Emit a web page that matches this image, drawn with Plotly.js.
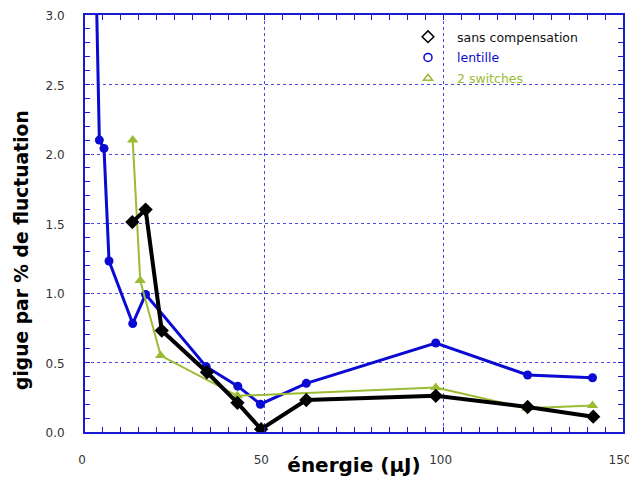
<!DOCTYPE html>
<html><head><meta charset="utf-8">
<script src="https://cdn.plot.ly/plotly-3.0.1.min.js"></script>
<style>body{margin:0;background:#fff}#chart{width:629px;height:477px}</style>
</head><body><div id="chart"></div>
<script>
// sans compensation
const xNoComp = [13.2, 16.9, 21.4, 34.0, 42.5, 49.1, 61.7, 97.8, 123.4, 141.7];
const yNoComp = [1.51, 1.60, 0.73, 0.43, 0.21, 0.02, 0.23, 0.26, 0.18, 0.11];
// lentille
const xLens = [2.5, 4.0, 5.3, 6.7, 13.3, 16.9, 33.8, 42.6, 48.9, 61.7, 97.8, 123.4, 141.5];
const yLens = [4.0, 2.10, 2.04, 1.23, 0.78, 0.99, 0.47, 0.33, 0.20, 0.35, 0.64, 0.41, 0.39];
// 2 switches
const xSw = [13.3, 15.4, 21.1, 42.5, 97.8, 123.2, 141.5];
const ySw = [2.10, 1.09, 0.55, 0.26, 0.32, 0.17, 0.19];

const seriesNames = ['sans compensation', 'lentille', '2 switches'];
const xTickVals = [0, 50, 100, 150];
const yTickVals = [0, 0.5, 1, 1.5, 2, 2.5, 3];
const xTitle = 'énergie (µJ)';
const yTitle = 'gigue par % de fluctuation';

const BLUE = '#0a0ad2', GREEN = '#9bbb33', AXIS = '#1a1ad0', GRID = '#4a4ae6';
const FONT = 'DejaVu Sans, Verdana, sans-serif';

const traces = [
  {x: xLens, y: yLens, mode: 'lines+markers', showlegend: false,
   line: {color: BLUE, width: 3}, marker: {symbol: 'circle', size: 9, color: BLUE}},
  {x: xSw, y: ySw, mode: 'lines+markers', showlegend: false,
   line: {color: GREEN, width: 2}, marker: {symbol: 'triangle-up', size: 10, color: GREEN}},
  {x: xNoComp, y: yNoComp, mode: 'lines+markers', showlegend: false,
   line: {color: '#000', width: 4}, marker: {symbol: 'diamond', size: 11, color: '#000'}},
  // legend entries
  {x: [null], y: [null], mode: 'markers', legendgroup: 'a',
   name: '<span style="color:#111">' + seriesNames[0] + '</span>',
   marker: {symbol: 'diamond-open', size: 9, color: '#000', line: {width: 1.5}}},
  {x: [null], y: [null], mode: 'markers', legendgroup: 'b',
   name: '<span style="color:' + BLUE + '">' + seriesNames[1] + '</span>',
   marker: {symbol: 'circle-open', size: 8, color: BLUE, line: {width: 1.5}}},
  {x: [null], y: [null], mode: 'markers', legendgroup: 'c',
   name: '<span style="color:' + GREEN + '">' + seriesNames[2] + '</span>',
   marker: {symbol: 'triangle-up-open', size: 8, color: GREEN, line: {width: 1.5}}}
];

const axisCommon = {
  showline: true, linecolor: AXIS, linewidth: 2, mirror: 'ticks',
  ticks: 'inside', ticklen: 5, tickcolor: AXIS, tickwidth: 1,
  showgrid: true, gridcolor: GRID, griddash: 'dot', gridwidth: 1,
  zeroline: false, ticklabeloverflow: 'allow',
  tickfont: {family: FONT, size: 12, color: '#333'}
};

const layout = {
  width: 629, height: 477,
  margin: {l: 85, r: 6, t: 15, b: 45},
  paper_bgcolor: '#fff', plot_bgcolor: '#fff',
  font: {family: FONT},
  xaxis: Object.assign({}, axisCommon, {
    range: [0, 150], tickvals: xTickVals, ticktext: xTickVals.map(String),
    ticklabelstandoff: 16, ticklabelshift: -3,
    minor: {dtick: 5, ticks: 'inside', ticklen: 5, tickcolor: AXIS, showgrid: false},
    title: {text: xTitle, standoff: 0,
            font: {family: FONT, size: 20, color: '#000', weight: 'bold'}}
  }),
  yaxis: Object.assign({}, axisCommon, {
    range: [0, 3], tickvals: yTickVals, ticktext: yTickVals.map(v => v.toFixed(1)),
    ticklabelstandoff: 16, ticklabelshift: 1,
    minor: {dtick: 0.1, ticks: 'inside', ticklen: 5, tickcolor: AXIS, showgrid: false}
  }),
  annotations: [{text: yTitle, textangle: -90, xref: 'paper', yref: 'paper',
                 x: (21 - 85) / 538, y: (432 - 250) / 417, xanchor: 'center', yanchor: 'middle',
                 showarrow: false, font: {family: FONT, size: 18.7, color: '#000', weight: 'bold'}}],
  shapes: [{type: 'rect', xref: 'paper', yref: 'paper', x0: 0.5725, x1: 0.998, y0: 0.808, y1: 0.997,
            fillcolor: '#fff', line: {width: 0}, layer: 'between'}],
  legend: {x: 0.5836, y: 0.983, xanchor: 'left', yanchor: 'top', bgcolor: 'rgba(0,0,0,0)',
           borderwidth: 0, font: {family: FONT, size: 12.5, color: '#000'},
           itemwidth: 48, traceorder: 'grouped', tracegroupgap: 1.5}
};

Plotly.newPlot('chart', traces, layout, {displayModeBar: false, staticPlot: true});
</script></body></html>
